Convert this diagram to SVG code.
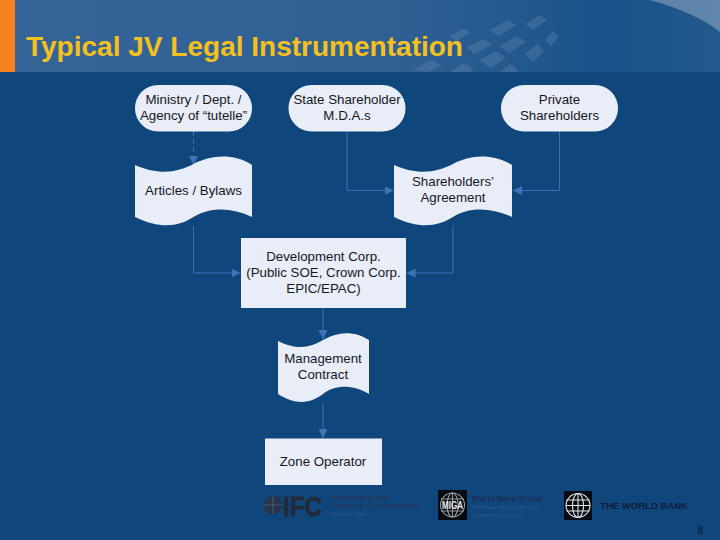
<svg xmlns="http://www.w3.org/2000/svg" width="720" height="540" viewBox="0 0 720 540">
<style>
text{font-family:"Liberation Sans",Arial,sans-serif}
.n{fill:#e8edf7}
.t{font-size:13.3px;fill:#16171c;text-anchor:middle}
.c{fill:none;stroke:#3f70b6;stroke-width:1}
.g{fill:none;stroke:#e8e8e8;stroke-width:1.1}
.gm{fill:none;stroke:#9a9a9a;stroke-width:1.1}
</style>
<defs>
<linearGradient id="band" x1="0" x2="1" y1="0" y2="0">
<stop offset="0" stop-color="#356497"/><stop offset=".55" stop-color="#2f6094"/><stop offset=".85" stop-color="#185288"/><stop offset="1" stop-color="#235a8c"/>
</linearGradient>
<marker id="a" markerUnits="userSpaceOnUse" markerWidth="10" markerHeight="10" refX="9" refY="5" orient="auto"><path d="M0 0.500L9 5L0 9.500Z" fill="#4072b8"/></marker>
<clipPath id="bc"><rect x="0" y="0" width="720" height="72"/></clipPath>
</defs>
<rect width="720" height="540" fill="#0f477c"/>
<rect width="720" height="72" fill="url(#band)"/>
<g clip-path="url(#bc)">
<path d="M650 0C680 8 705 20 720 32V0Z" fill="#8aa4c0" opacity=".6"/>
<g fill="#6d90b6" opacity=".3">
<path d="M490 30l18-10 8 5-18 11Z"/><path d="M500 46l17-10 9 6-17 11Z"/><path d="M466 47l18-8 8 6-18 9Z"/><path d="M480 60l16-9 10 7-16 10Z"/><path d="M412 70l20-10 10 6-14 6Z"/><path d="M450 72l14-9 10 7-4 2Z"/><path d="M526 24l14-9 7 5-14 10Z"/><path d="M525 54l12-10 7 7-11 11Z"/><path d="M545 40l8-9 6 6-8 9Z"/><path d="M500 72l10-8 8 6-1 2Z"/><path d="M450 36l14-8 6 5-14 8Z"/>
</g>
</g>
<rect width="15" height="72" fill="#f58220"/>
<text x="26" y="56" font-size="27" font-weight="bold" fill="#f4c020" textLength="437" lengthAdjust="spacingAndGlyphs">Typical JV Legal Instrumentation</text>

<g id="connectors">
<path class="c" stroke-dasharray="5 3" d="M193.500 131V165" marker-end="url(#a)"/>
<path class="c" d="M347 131V190.500H393.500" marker-end="url(#a)"/>
<path class="c" d="M559.500 131V190.500H513" marker-end="url(#a)"/>
<path class="c" d="M193.500 226V273H240.500" marker-end="url(#a)"/>
<path class="c" d="M453 226V273H406.500" marker-end="url(#a)"/>
<path class="c" d="M323 308V339" marker-end="url(#a)"/>
<path class="c" d="M323 403V438" marker-end="url(#a)"/>
</g>

<g id="ministry"><rect class="n" x="135" y="85" width="117" height="46.500" rx="23"/><text class="t" x="193.500" y="104">Ministry / Dept. /</text><text class="t" x="193.500" y="120">Agency of “tutelle”</text></g>
<g id="state"><rect class="n" x="288.500" y="85" width="117" height="46.500" rx="23"/><text class="t" x="347" y="104">State Shareholder</text><text class="t" x="347" y="120">M.D.A.s</text></g>
<g id="private"><rect class="n" x="501" y="85" width="117" height="46.500" rx="23"/><text class="t" x="559.500" y="104">Private</text><text class="t" x="559.500" y="120">Shareholders</text></g>

<g id="articles"><path class="n" d="M135 165C160 176 178 172 193.500 164C209 156 232 152 252 165V217C232 207 209 207 193.500 217C178 227 160 229 135 217Z"/><text class="t" x="193.500" y="195">Articles / Bylaws</text></g>
<g id="agreement"><path class="n" d="M394 165C419 176 437 172 453 164C468 156 491 152 512 165V217C491 207 468 207 453 217C437 227 419 229 394 217Z"/><text class="t" x="453" y="186">Shareholders’</text><text class="t" x="453" y="202">Agreement</text></g>
<g id="devcorp"><rect class="n" x="241" y="238" width="165" height="70"/><text class="t" x="323.500" y="261">Development Corp.</text><text class="t" x="323.500" y="277">(Public SOE, Crown Corp.</text><text class="t" x="323.500" y="293">EPIC/EPAC)</text></g>
<g id="management"><path class="n" d="M278 341C298 351 311 347 323 340C335 333 352 329 369 340V394C352 384 335 385 323 394C311 403 297 406 278 394Z"/><text class="t" x="323" y="363">Management</text><text class="t" x="323" y="379">Contract</text></g>
<g id="zone"><rect class="n" x="265" y="438.500" width="117" height="46.500"/><text class="t" x="323" y="466">Zone Operator</text></g>

<g id="logo-ifc">
<circle cx="273" cy="505" r="9.500" fill="#26344c"/><path d="M264 505H282M273 496V514" stroke="#4b5a72" stroke-width="1"/>
<text x="283" y="516" font-size="27" font-weight="bold" fill="#222b3a" stroke="#222b3a" stroke-width=".9" textLength="39" lengthAdjust="spacingAndGlyphs">IFC</text>
<text x="331" y="500" font-size="7.500" font-weight="bold" fill="#24395e" textLength="56" lengthAdjust="spacingAndGlyphs">International</text>
<text x="331" y="508" font-size="7.500" font-weight="bold" fill="#24395e" textLength="87" lengthAdjust="spacingAndGlyphs">Finance Corporation</text>
<text x="331" y="516" font-size="5" fill="#2f5585" textLength="35" lengthAdjust="spacingAndGlyphs">World Bank Group</text>
</g>
<g id="logo-miga">
<rect x="438" y="490" width="29" height="30" fill="#060a12"/>
<circle class="gm" cx="452.500" cy="505" r="12"/><ellipse class="gm" cx="452.500" cy="505" rx="5.500" ry="12"/><path class="gm" d="M441 499H464M441 511H464M452.500 493V517"/>
<text x="452.500" y="509" font-size="10" font-weight="bold" fill="#ececec" text-anchor="middle" textLength="21" lengthAdjust="spacingAndGlyphs">MIGA</text>
<text x="472" y="501" font-size="8" font-weight="bold" fill="#1d2f55" textLength="71" lengthAdjust="spacingAndGlyphs">World Bank Group</text>
<text x="472" y="509" font-size="5.500" fill="#2f5585" textLength="67" lengthAdjust="spacingAndGlyphs">Multilateral Investment</text>
<text x="472" y="517" font-size="5.500" fill="#2f5585" textLength="52" lengthAdjust="spacingAndGlyphs">Guarantee Agency</text>
</g>
<g id="logo-wb">
<rect x="564" y="491" width="28" height="29" fill="#060a12"/>
<circle class="g" cx="578" cy="505.500" r="12"/><ellipse class="g" cx="578" cy="505.500" rx="5.500" ry="12"/><path class="g" d="M566.500 500H589.500M566.500 511H589.500M566 505.500H590M578 493.500V517.500"/>
<text x="600" y="509" font-size="9.500" font-weight="bold" fill="#0f1d38" textLength="88" lengthAdjust="spacingAndGlyphs">THE WORLD BANK</text>
</g>
<text x="700.500" y="533.500" font-size="10" fill="#10161f" text-anchor="middle">8</text>
</svg>
